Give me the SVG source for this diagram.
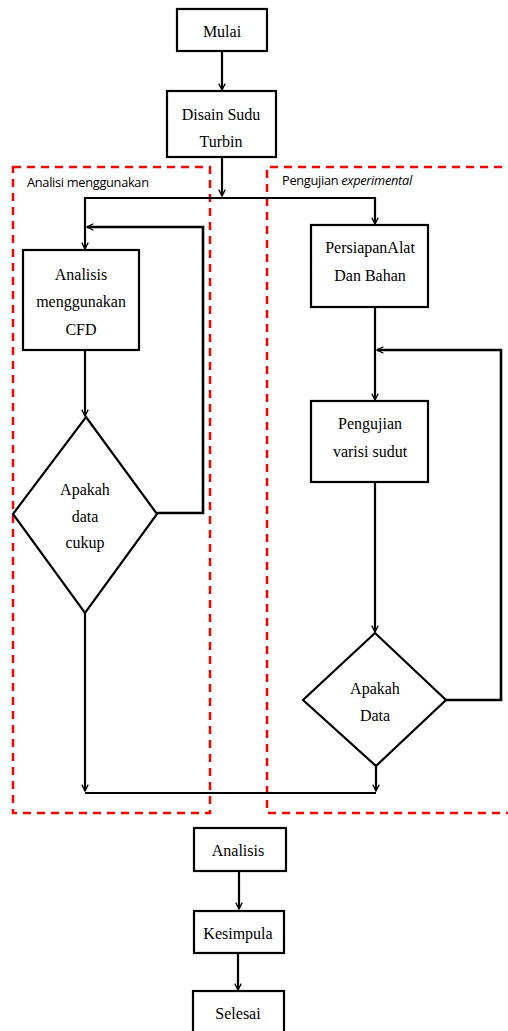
<svg xmlns="http://www.w3.org/2000/svg" width="508" height="1031" viewBox="0 0 508 1031">
<style>
.box{fill:#fff;stroke:#000;stroke-width:2.2}
.t{font-family:"Liberation Serif","Times New Roman",serif;font-size:16px;fill:#000;text-anchor:middle}
.lbl{font-family:"Open Sans","Liberation Sans",sans-serif;font-size:12.8px;fill:#000;letter-spacing:-0.3px}
.ln{fill:none;stroke:#000;stroke-width:2.2}
.dash{fill:none;stroke:#ff0000;stroke-width:2.5;stroke-dasharray:8,6}
</style>
<defs>
<marker id="ah" viewBox="0 0 10 10" refX="9" refY="5" markerWidth="8" markerHeight="8" markerUnits="userSpaceOnUse" orient="auto">
<path d="M1,1 L9,5 L1,9" fill="none" stroke="#000" stroke-width="1.6"/>
</marker>
</defs>
<rect width="508" height="1031" fill="#fff"/>
<g id="regions">
<rect class="dash" x="13" y="167" width="197" height="646"/>
<path class="dash" d="M530,167 H267 V813 H530"/>
<text class="lbl" x="27" y="187">Analisi menggunakan</text>
<text class="lbl" x="282" y="185">Pengujian <tspan font-style="italic">experimental</tspan></text>
</g>
<g id="connectors">
<line class="ln" x1="222" y1="51" x2="222" y2="90" marker-end="url(#ah)"/>
<line class="ln" x1="222" y1="157" x2="222" y2="196" marker-end="url(#ah)"/>
<path class="ln" d="M376,198 H85 V249" marker-end="url(#ah)"/>
<path class="ln" d="M222,198 H375 V224" marker-end="url(#ah)"/>
<line class="ln" x1="85" y1="350" x2="85" y2="416" marker-end="url(#ah)"/>
<path class="ln" d="M157,513 H203 V227 H87" marker-end="url(#ah)" style="stroke-width:2.6"/>
<line class="ln" x1="85" y1="613" x2="85" y2="791" marker-end="url(#ah)"/>
<path class="ln" d="M85,793 H376"/>
<line class="ln" x1="375" y1="307" x2="375" y2="400" marker-end="url(#ah)"/>
<path class="ln" d="M446,700 H501 V350 H377" marker-end="url(#ah)" style="stroke-width:2.6"/>
<line class="ln" x1="375" y1="482" x2="375" y2="632" marker-end="url(#ah)"/>
<line class="ln" x1="376" y1="766" x2="376" y2="791" marker-end="url(#ah)"/>
<line class="ln" x1="239" y1="871" x2="239" y2="909" marker-end="url(#ah)"/>
<line class="ln" x1="238" y1="953" x2="238" y2="990" marker-end="url(#ah)"/>
</g>
<g id="mulai">
<rect class="box" x="177" y="9" width="90" height="42"/>
<text class="t" x="222" y="37">Mulai</text>
</g>
<g id="disain">
<rect class="box" x="167" y="91" width="109" height="66"/>
<text class="t" x="221" y="120">Disain Sudu</text>
<text class="t" x="221" y="147">Turbin</text>
</g>
<g id="cfd">
<rect class="box" x="23" y="250" width="116" height="100"/>
<text class="t" x="81" y="280">Analisis</text>
<text class="t" x="81" y="307">menggunakan</text>
<text class="t" x="81" y="335">CFD</text>
</g>
<g id="cek-cfd">
<polygon class="box" points="86,417 157,514 85,613 13,514"/>
<text class="t" x="85" y="495">Apakah</text>
<text class="t" x="85" y="522">data</text>
<text class="t" x="85" y="548">cukup</text>
</g>
<g id="persiapan">
<rect class="box" x="311" y="225" width="117" height="82"/>
<text class="t" x="370" y="253">PersiapanAlat</text>
<text class="t" x="370" y="281">Dan Bahan</text>
</g>
<g id="pengujian">
<rect class="box" x="311" y="401" width="117" height="81"/>
<text class="t" x="370" y="429">Pengujian</text>
<text class="t" x="370" y="457">varisi sudut</text>
</g>
<g id="cek-data">
<polygon class="box" points="375,633 446,700 376,766 303,700"/>
<text class="t" x="375" y="694">Apakah</text>
<text class="t" x="375" y="721">Data</text>
</g>
<g id="analisis">
<rect class="box" x="194" y="828" width="92" height="43"/>
<text class="t" x="238" y="856">Analisis</text>
</g>
<g id="kesimpula">
<rect class="box" x="194" y="911" width="90" height="42"/>
<text class="t" x="238" y="939">Kesimpula</text>
</g>
<g id="selesai">
<rect class="box" x="193" y="991" width="91" height="60"/>
<text class="t" x="238" y="1019">Selesai</text>
</g>
</svg>
